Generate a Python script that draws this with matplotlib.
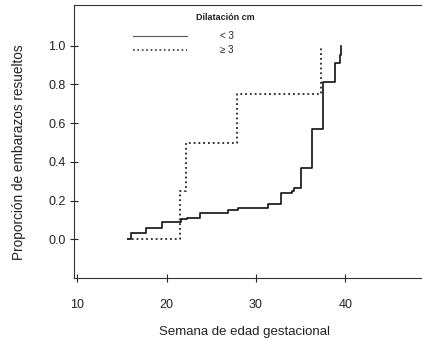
import numpy as np
import matplotlib.pyplot as plt

plt.rcParams['font.family'] = ['Liberation Sans', 'DejaVu Sans']

# dilatación < 3 cm (línea continua)
semanas_lt3 = [15.7, 16.0, 17.7, 19.5, 21.6, 22.3, 23.7, 26.9, 28.0, 31.4,
               32.8, 34.0, 34.3, 35.0, 36.3, 37.5, 38.8, 39.4, 39.5]
prop_lt3 = [0.0, 0.03, 0.058, 0.088, 0.105, 0.11, 0.137, 0.15, 0.16, 0.18,
            0.237, 0.25, 0.265, 0.37, 0.57, 0.815, 0.91, 0.95, 1.0]

# dilatación >= 3 cm (línea punteada)
semanas_ge3 = [15.6, 21.45, 22.2, 27.85, 37.3]
prop_ge3 = [0.0, 0.25, 0.5, 0.75, 1.0]

xticks = [10, 20, 30, 40]
yticks = [0.0, 0.2, 0.4, 0.6, 0.8, 1.0]

fig = plt.figure(figsize=(4.22, 3.39), dpi=100)
ax = fig.add_axes([0.175, 0.18, 0.823, 0.805])

ax.step(semanas_lt3, prop_lt3, where='post', color='#111111', lw=1.2)
ax.step(semanas_ge3, prop_ge3, where='post', color='#222222', lw=1.3,
        linestyle=':')

ax.set_xlim(9.6, 48.5)
ax.set_ylim(-0.2, 1.21)
ax.set_xticks(xticks)
ax.set_yticks(yticks)
ax.set_yticklabels([f'{v:.1f}' for v in yticks])
ax.tick_params(direction='inout', length=6, width=0.8, labelsize=9,
               colors='#222222')
ax.tick_params(axis='x', pad=12)
ax.tick_params(axis='y', pad=3)

ax.spines['right'].set_visible(False)
for s in ['left', 'top', 'bottom']:
    ax.spines[s].set_color('#333333')
    ax.spines[s].set_linewidth(0.8)

ax.set_xlabel('Semana de edad gestacional', fontsize=9.5, color='#222222')
ax.set_ylabel('Proporción de embarazos resueltos', fontsize=9.8,
              color='#222222')
ax.xaxis.set_label_coords(0.49, -0.175)
ax.yaxis.set_label_coords(-0.138, 0.46)

# leyenda dibujada a mano
tr = ax.transAxes
ax.text(0.435, 0.955, 'Dilatación cm', transform=tr, fontsize=6.5,
        fontweight='bold', ha='center', va='center', color='#222222')
ax.plot([0.17, 0.325], [0.885, 0.885], transform=tr, color='#555555',
        lw=0.8)
ax.plot([0.17, 0.325], [0.835, 0.835], transform=tr, color='#333333',
        lw=1.2, linestyle=':')
ax.text(0.42, 0.885, '< 3', transform=tr, fontsize=7, va='center',
        color='#222222')
ax.text(0.42, 0.835, '≥ 3', transform=tr, fontsize=7, va='center',
        color='#222222')

fig.savefig('out.png', dpi=100)
